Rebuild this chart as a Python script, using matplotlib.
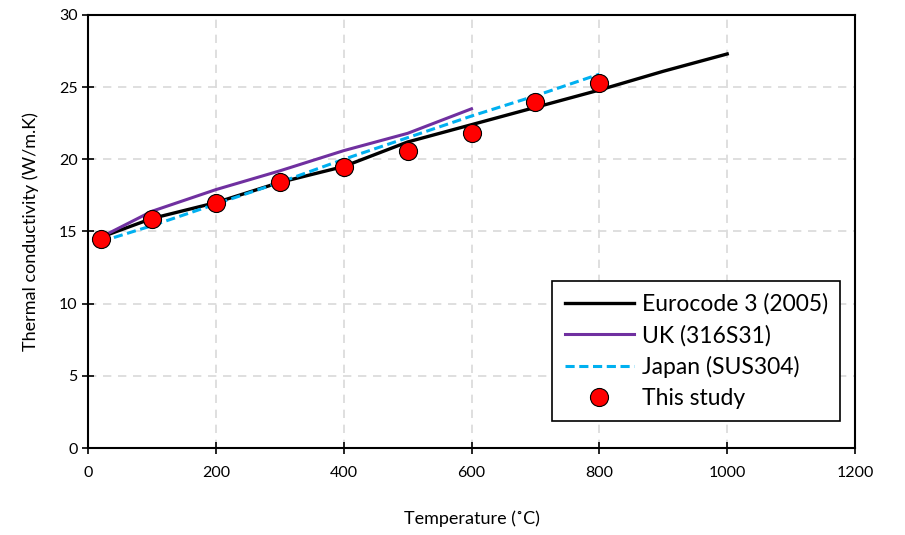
import matplotlib
matplotlib.use('Agg')
import matplotlib.pyplot as plt

# Data
euro_t = [20, 100, 200, 300, 400, 500, 600, 700, 800, 900, 1000]
euro_k = [14.6, 15.9, 17.0, 18.4, 19.5, 21.2, 22.4, 23.6, 24.8, 26.1, 27.3]

uk_t = [20, 100, 200, 300, 400, 500, 600]
uk_k = [14.6, 16.4, 17.9, 19.2, 20.6, 21.8, 23.5]

jp_t = [20, 100, 200, 300, 400, 500, 600, 700, 800]
jp_k = [14.3, 15.4, 16.9, 18.4, 20.0, 21.5, 23.0, 24.4, 25.9]

study_t = [20, 100, 200, 300, 400, 500, 600, 700, 800]
study_k = [14.5, 15.9, 17.0, 18.4, 19.5, 20.6, 21.8, 24.0, 25.3]

plt.rcParams['font.family'] = ['Lato', 'DejaVu Sans']

fig = plt.figure(figsize=(9.05, 5.35), dpi=100)
ax = fig.add_axes([0.0972, 0.1626, 0.8476, 0.8094])

ax.plot(euro_t, euro_k, color='black', lw=2.4, label='Eurocode 3 (2005)', zorder=3)
ax.plot(uk_t, uk_k, color='#7030A0', lw=2.2, label='UK (316S31)', zorder=3)
ax.plot(jp_t, jp_k, color='#00B0F0', lw=2.2, ls=(0, (3, 1.5)), label='Japan (SUS304)', zorder=3)
ax.plot(study_t, study_k, 'o', color='red', mec='black', mew=0.8, ms=13,
        label='This study', zorder=4)

ax.set_xlim(0, 1200)
ax.set_ylim(0, 30)
ax.set_xticks(range(0, 1201, 200))
ax.set_yticks(range(0, 31, 5))
ax.grid(True, color='#d9d9d9', ls=(0, (5, 4)), lw=1.2)
ax.set_axisbelow(True)

for s in ax.spines.values():
    s.set_linewidth(1.5)
    s.set_color('black')
ax.tick_params(direction='inout', length=8, width=1.2, labelsize=11.5)
ax.tick_params(axis='x', pad=9)

ax.set_xlabel('Temperature (˚C)', fontsize=13, labelpad=22)
ax.set_ylabel('Thermal conductivity (W/m.K)', fontsize=13, labelpad=14)

leg = ax.legend(loc='lower right', bbox_to_anchor=(0.981, 0.062), fontsize=16.5,
                fancybox=False, framealpha=1, edgecolor='black',
                handlelength=3.0, handletextpad=0.35, labelspacing=0.42,
                borderpad=0.55, borderaxespad=0)
leg.get_frame().set_linewidth(1.2)

fig.savefig('out.png', dpi=100)
